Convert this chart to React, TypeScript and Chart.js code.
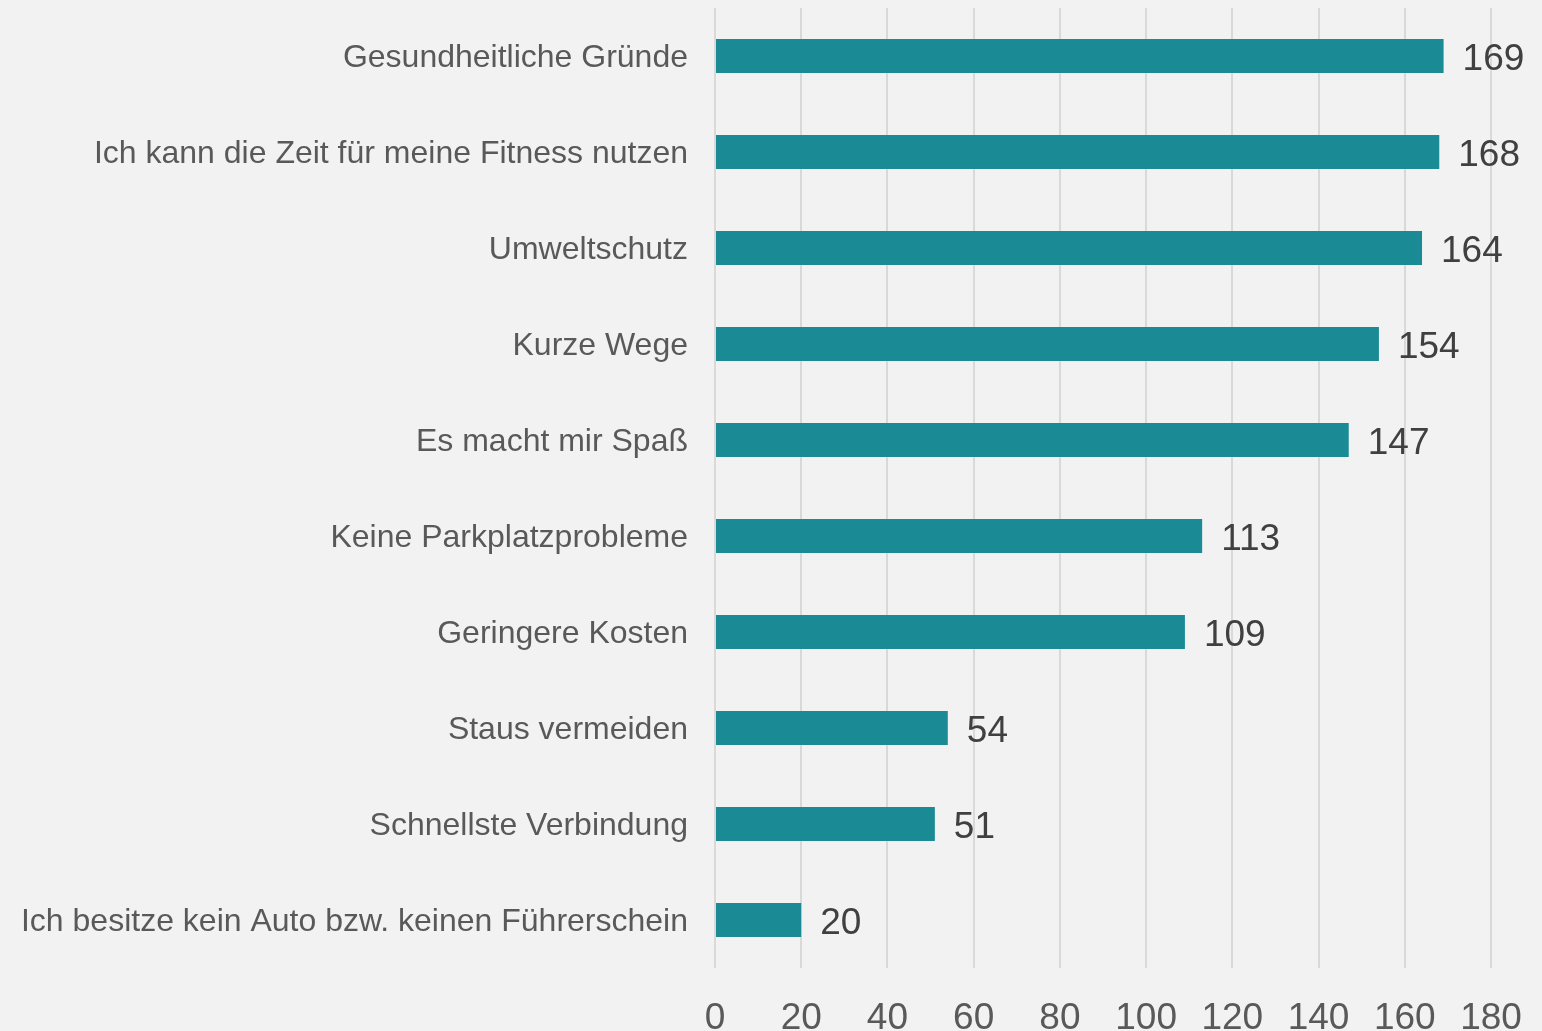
import React, { useEffect, useRef } from "react";
import { Chart, registerables } from "chart.js";

Chart.register(...registerables);

const categories: string[] = [
  "Gesundheitliche Gründe",
  "Ich kann die Zeit für meine Fitness nutzen",
  "Umweltschutz",
  "Kurze Wege",
  "Es macht mir Spaß",
  "Keine Parkplatzprobleme",
  "Geringere Kosten",
  "Staus vermeiden",
  "Schnellste Verbindung",
  "Ich besitze kein Auto bzw. keinen Führerschein",
];

const values: number[] = [169, 168, 164, 154, 147, 113, 109, 54, 51, 20];

const xMin = 0;
const xMax = 180;
const xStep = 20;

const valueLabelPlugin = {
  id: "valueLabels",
  afterDatasetsDraw(chart: any) {
    const { ctx } = chart;
    const meta = chart.getDatasetMeta(0);
    ctx.save();
    ctx.font = '37px "Liberation Sans", Arial, sans-serif';
    ctx.fillStyle = "#404040";
    ctx.textAlign = "left";
    ctx.textBaseline = "middle";
    meta.data.forEach((bar: any, i: number) => {
      ctx.fillText(String(values[i]), bar.x + 19, bar.y + 4);
    });
    ctx.restore();
  },
};

export default function App() {
  const canvasRef = useRef<HTMLCanvasElement | null>(null);

  useEffect(() => {
    document.body.style.margin = "0";
    const canvas = canvasRef.current;
    if (!canvas) return;
    const chart = new Chart(canvas, {
      type: "bar",
      data: {
        labels: categories,
        datasets: [
          {
            data: values,
            backgroundColor: "#1a8a94",
            borderWidth: 0,
            barPercentage: 0.354,
            categoryPercentage: 1,
          },
        ],
      },
      options: {
        indexAxis: "y",
        animation: false,
        responsive: false,
        devicePixelRatio: 1,
        layout: { padding: { top: 8, right: 51, left: 0, bottom: 0 } },
        plugins: {
          legend: { display: false },
          tooltip: { enabled: false },
        },
        scales: {
          x: {
            min: xMin,
            max: xMax,
            position: "bottom",
            ticks: {
              stepSize: xStep,
              color: "#595959",
              font: { family: '"Liberation Sans", Arial, sans-serif', size: 37 },
              padding: 29,
            },
            grid: {
              color: "#d9d9d9",
              lineWidth: 2,
              drawTicks: false,
            },
            border: { display: false },
            afterFit: (scale: any) => {
              scale.height = 63;
              scale.paddingLeft = 0;
              scale.paddingRight = 0;
              scale.paddingTop = 0;
              scale.paddingBottom = 0;
            },
          },
          y: {
            ticks: {
              color: "#595959",
              font: { family: '"Liberation Sans", Arial, sans-serif', size: 32 },
              padding: 27,
              labelOffset: 2,
            },
            grid: { display: false, drawTicks: false },
            border: { display: false },
            afterFit: (scale: any) => {
              scale.width = 715;
              scale.paddingLeft = 0;
              scale.paddingRight = 0;
              scale.paddingTop = 0;
              scale.paddingBottom = 0;
            },
          },
        },
      },
      plugins: [valueLabelPlugin],
    });
    return () => chart.destroy();
  }, []);

  return (
    <div
      style={{
        position: "absolute",
        left: 0,
        top: 0,
        width: 1542,
        height: 1031,
        background: "#f2f2f2",
        overflow: "hidden",
      }}
    >
      <canvas ref={canvasRef} width={1542} height={1031} style={{ display: "block" }} />
    </div>
  );
}
